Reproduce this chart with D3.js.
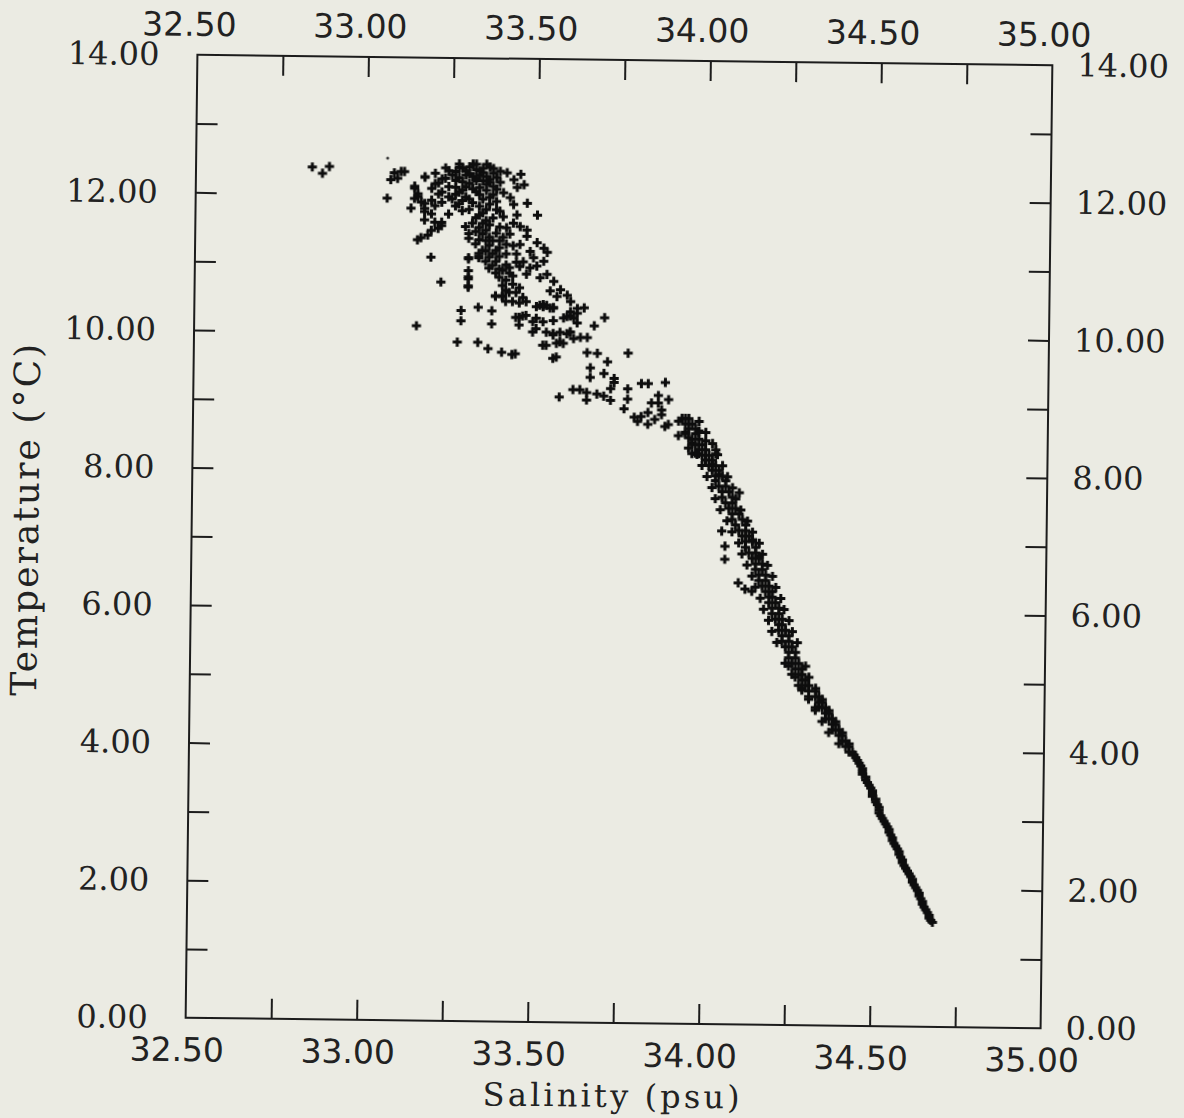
<!DOCTYPE html>
<html>
<head>
<meta charset="utf-8">
<script src="https://cdn.jsdelivr.net/npm/d3@7"></script>
<style>
  body { margin: 0; background: #ebebe3; }
  svg { display: block; }
  .xlab text { font-family: "DejaVu Sans"; font-size: 33px; fill: #222; }
  .ylab text { font-family: "DejaVu Serif"; font-size: 32px; fill: #222; }
  .title { font-family: "DejaVu Serif"; fill: #222; }
</style>
</head>
<body>
<script>
// tick positions and labels
const xMinor = [32.75, 33.0, 33.25, 33.5, 33.75, 34.0, 34.25, 34.5, 34.75]
const xLabels = [32.5, 33.0, 33.5, 34.0, 34.5, 35.0]
const yMinor = [1, 2, 3, 4, 5, 6, 7, 8, 9, 10, 11, 12, 13]
const yLabels = [0, 2, 4, 6, 8, 10, 12, 14]

// [salinity psu, temperature C]
const tinyDots = [[33.06, 12.53]]

const surfaceCluster = [
  [32.84,12.39],[32.87,12.30],[32.89,12.40],
  [33.06,11.95],[33.07,12.22],[33.08,12.32],[33.10,12.34],[33.11,12.34],[33.09,12.24],[33.17,12.26],
  [33.14,12.10],[33.14,11.95],[33.15,12.02],[33.16,11.90],[33.13,11.81],[33.17,11.81],[33.17,11.76],
  [33.19,11.93],[33.17,11.64],[33.19,11.49],[33.21,11.52],[33.22,11.56],[33.15,11.35],[33.16,11.38],
  [33.18,11.42],[33.19,11.10],[33.22,10.74],[33.14,12.13],[33.17,12.27],[33.15,11.98],[33.17,11.88],
  [33.19,11.73],[33.20,11.61],[33.22,11.61],[33.24,11.73],
  [33.20,12.32],[33.20,12.17],[33.21,12.02],[33.22,12.24],[33.24,12.36],[33.24,12.13],[33.25,11.95],
  [33.26,12.22],[33.27,12.41],[33.27,12.05],[33.28,11.93],[33.29,12.13],[33.30,12.32],[33.31,12.46],
  [33.32,12.22],[33.33,12.36],[33.33,12.02],[33.35,12.46],[33.35,12.17],[33.36,11.88],[33.37,12.02],
  [33.38,12.27],[33.39,11.78],[33.32,11.68],[33.33,11.54],[33.35,11.64],[33.34,11.45],[33.36,11.40],
  [33.30,11.45],[33.30,11.38],[33.32,11.30],[33.34,11.21],[33.36,11.11],[33.37,10.99],[33.33,11.16],
  [33.36,11.28],[33.38,11.21],[33.40,11.40],[33.41,11.54],[33.43,11.61],[33.45,11.56],[33.47,11.51],
  [33.42,11.45],[33.43,11.28],[33.44,11.16],[33.44,11.04],[33.42,10.96],[33.43,10.84],[33.39,10.94],
  [33.41,11.16],[33.30,11.10],[33.30,10.91],[33.30,11.08],[33.33,11.12],[33.33,11.10],
  [33.41,12.34],[33.43,12.24],[33.45,12.32],[33.46,12.17],[33.44,12.13],[33.42,11.98],[33.43,11.88],
  [33.44,11.73],[33.47,11.90],[33.50,11.73],[33.50,11.33],[33.52,11.25],[33.53,11.19],[33.52,11.06],
  [33.49,11.11],[33.50,10.99],[33.48,10.96],[33.47,10.87],
  [33.28,12.40],[33.30,12.42],[33.32,12.38],[33.34,12.40],[33.36,12.42],[33.29,12.30],[33.31,12.28],
  [33.33,12.30],[33.35,12.28],[33.37,12.33],[33.28,12.20],[33.30,12.18],[33.34,12.22],[33.36,12.20],
  [33.26,12.12],[33.31,12.10],[33.33,12.12],[33.38,12.10],[33.25,12.30],[33.23,12.25],[33.21,12.18],
  [33.19,12.10],[33.22,12.05],[33.24,11.98],[33.20,11.85],[33.29,11.98],[33.31,11.90],[33.34,11.95],
  [33.38,11.92],[33.40,12.05],[33.35,11.80],[33.33,11.72],[33.37,11.68],[33.39,11.55],[33.37,11.35],
  [33.35,11.20],[33.38,11.05],[33.36,10.95],[33.41,11.00],[33.23,12.40],[33.26,12.35],[33.22,11.90],
  [33.26,11.85],[33.28,11.78],[33.31,11.60],[33.29,11.55],[33.39,11.35]
]

// extra marks where the top blob is solid black
const surfaceCore = [
  [33.27,12.46],[33.29,12.36],[33.32,12.46],[33.34,12.34],[33.37,12.40],[33.39,12.36],[33.27,12.26],
  [33.32,12.26],[33.36,12.24],[33.39,12.20],[33.26,12.02],[33.28,12.08],[33.32,12.06],[33.35,12.08],
  [33.37,12.14],[33.30,11.95],[33.33,11.85],[33.36,11.98],[33.27,11.88],[33.30,11.80],[33.34,11.75],
  [33.38,11.80],[33.40,11.70],[33.36,11.58],[33.34,11.60],[33.32,11.48],[33.35,11.50],[33.38,11.46],
  [33.41,11.30],[33.39,11.25],[33.35,11.35],[33.33,11.36],[33.35,11.05],[33.39,11.12],[33.37,11.16],
  [33.40,10.92],[33.38,10.88],[33.42,10.88],[33.41,10.78],[33.45,10.98],[33.46,11.05],[33.45,11.30],
  [33.47,11.42],[33.48,11.20]
]

const intermediateScatter = [
  [33.30,10.82],[33.30,10.67],[33.30,10.79],[33.30,10.69],[33.40,10.70],[33.42,10.60],
  [33.15,10.10],[33.27,9.87],[33.33,9.87],[33.36,9.78],[33.40,9.73],[33.43,9.70],[33.44,9.71],
  [33.28,10.33],[33.33,10.38],[33.37,10.33],[33.28,10.18],[33.37,10.14],
  [33.38,10.54],[33.40,10.54],[33.41,10.47],[33.43,10.47],[33.44,10.24],[33.46,10.26],[33.50,10.40],
  [33.52,10.40],[33.54,10.38],[33.49,10.18],[33.52,10.18],[33.50,10.08],[33.53,10.03],[33.55,9.99],
  [33.53,9.84],[33.57,9.89],[33.59,10.01],[33.60,10.04],[33.61,9.94],[33.55,9.65],[33.59,10.26],
  [33.60,10.33],[33.62,10.38],
  [33.43,10.72],[33.44,10.60],[33.41,10.63],[33.45,10.67],[33.46,10.53],[33.38,10.55],[33.40,10.55],
  [33.39,10.82],[33.51,10.82],[33.53,10.87],[33.55,10.77],[33.54,10.63],[33.57,10.65],[33.59,10.57],
  [33.60,10.48],[33.56,10.55],[33.52,10.43],[33.55,10.38],[33.58,10.24],[33.61,10.24],[33.62,10.31],
  [33.70,10.25],[33.67,10.13],[33.64,10.39],[33.62,10.17],[33.60,10.27],[33.60,10.03],[33.57,10.03],
  [33.65,9.96],[33.63,9.96],[33.55,10.20],[33.55,10.01],[33.56,9.87],[33.58,9.87],[33.52,9.84],
  [33.56,9.67],[33.49,10.03],[33.50,10.23],[33.47,10.27],[33.45,10.24],[33.45,10.13],[33.51,10.42],
  [33.53,10.42],[33.55,10.39],[33.45,10.45],[33.47,10.47],
  [33.77,9.74],[33.57,9.09],[33.61,9.20],[33.63,9.20],[33.65,9.16],[33.65,9.05],[33.68,9.14],
  [33.70,9.11],[33.72,9.05],[33.66,9.52],[33.66,9.38],[33.65,9.74],[33.68,9.73],[33.71,9.61],
  [33.70,9.44],[33.73,9.37],[33.73,9.31],[33.72,9.22],[33.77,9.22],[33.77,9.07],[33.76,8.93],
  [33.81,9.30],[33.83,9.30],[33.88,9.32],[33.86,9.13],[33.86,9.02],[33.84,9.02],[33.89,9.07],
  [33.87,8.92],[33.87,8.85],[33.83,8.88],[33.79,8.81],[33.80,8.75],[33.81,8.82],[33.83,8.71],
  [33.85,8.78],[33.88,8.68],[33.89,8.71]
]

const thermoclineBand = [
  [33.94,8.80],[33.92,8.55],[33.95,8.52],[33.96,8.43],[33.98,8.62],[34.00,8.48],[33.96,8.29],
  [33.98,8.29],[34.03,8.29],[34.02,8.14],[34.04,7.99],[33.98,8.60],[33.95,8.37],[33.97,8.30],[34.03,8.35],
  [34.05,7.17],[34.06,6.95],[34.06,6.76],[34.10,6.42],[34.12,6.33],[34.14,6.30],[34.10,7.73],
  [34.14,7.05],[34.16,6.81],
  [33.93,8.80],[33.95,8.80],[33.94,8.72],[33.96,8.72],[33.95,8.65],[33.97,8.65],[33.94,8.58],[33.97,8.58],
  [33.96,8.50],[33.98,8.50],[33.97,8.42],[33.99,8.42],[33.98,8.35],[34.00,8.35],[33.99,8.27],[34.01,8.27],
  [34.00,8.20],[34.02,8.20],[34.01,8.12],[34.03,8.12],[34.02,8.05],[34.04,8.05],[34.03,7.97],[34.05,7.97],
  [34.03,7.90],[34.06,7.90],[34.04,7.82],[34.06,7.82],[34.05,7.74],[34.07,7.74],[34.05,7.66],[34.08,7.66],
  [34.06,7.58],[34.08,7.58],[34.07,7.50],[34.09,7.50],[34.08,7.42],[34.10,7.42],[34.08,7.34],[34.11,7.34],
  [34.09,7.26],[34.12,7.26],[34.10,7.18],[34.12,7.18],[34.11,7.10],[34.13,7.10],[34.12,7.02],[34.14,7.02],
  [34.12,6.94],[34.15,6.94],[34.13,6.86],[34.15,6.86],[34.14,6.78],[34.16,6.78],[34.15,6.70],[34.17,6.70],
  [34.15,6.62],[34.17,6.62],[34.16,6.54],[34.18,6.54],[34.16,6.46],[34.18,6.46],[34.17,6.38],[34.19,6.38],
  [34.18,6.30],[34.20,6.30],[34.19,6.22],[34.20,6.22],[34.19,6.14],[34.21,6.14],[34.20,6.06],[34.22,6.06],
  [34.20,5.98],[34.22,5.98],[34.21,5.90],[34.23,5.90],[34.22,5.82],[34.23,5.82],[34.22,5.74],[34.24,5.74],
  [34.23,5.66],[34.25,5.66],[34.23,5.58],[34.25,5.58],[34.24,5.50],[34.26,5.50],[34.25,5.42],[34.27,5.42],
  [34.25,5.34],[34.27,5.34]
]

// left and right edges of the thermocline band
const thermoclineEdges = [
  [33.92,8.76],[33.98,8.76],[33.94,8.60],[34.00,8.60],[33.96,8.44],[34.02,8.44],[33.975,8.28],[34.035,8.28],
  [33.99,8.12],[34.05,8.12],[34.005,7.96],[34.065,7.96],[34.02,7.80],[34.08,7.80],[34.03,7.64],[34.09,7.64],
  [34.045,7.48],[34.105,7.48],[34.065,7.32],[34.125,7.32],[34.08,7.16],[34.14,7.16],[34.10,7.00],[34.16,7.00],
  [34.11,6.84],[34.17,6.84],[34.125,6.68],[34.185,6.68],[34.14,6.52],[34.20,6.52],[34.15,6.36],[34.21,6.36],
  [34.165,6.20],[34.225,6.20],[34.175,6.04],[34.235,6.04],[34.19,5.88],[34.25,5.88],[34.20,5.72],[34.26,5.72],
  [34.215,5.56],[34.275,5.56]
]

const deepTail = [
  [34.26,5.26],[34.28,5.26],[34.24,5.26],[34.27,5.18],[34.29,5.18],[34.28,5.10],[34.29,5.10],[34.26,5.10],
  [34.29,5.02],[34.30,5.02],[34.30,4.94],[34.31,4.94],[34.28,4.94],[34.29,4.87],[34.31,4.86],[34.33,4.86],
  [34.33,4.78],[34.34,4.78],[34.31,4.78],[34.34,4.70],[34.35,4.70],[34.34,4.63],[34.35,4.62],[34.36,4.62],
  [34.33,4.62],[34.36,4.54],[34.37,4.54],[34.37,4.46],[34.38,4.46],[34.36,4.46],[34.38,4.38],[34.39,4.38],
  [34.39,4.30],[34.40,4.30],[34.38,4.30],[34.40,4.22],[34.41,4.22],[34.41,4.14],[34.42,4.14],[34.42,4.06],
  [34.43,4.06],[34.43,3.98],[34.44,3.98],[34.45,3.90],[34.46,3.82],[34.47,3.74],[34.47,3.66],[34.48,3.58],
  [34.49,3.50],[34.50,3.42],[34.50,3.34],[34.51,3.26],[34.52,3.18],[34.52,3.10],[34.53,3.02],[34.54,2.94],
  [34.55,2.86],[34.555,2.78],[34.56,2.70],[34.57,2.62],[34.58,2.54],[34.585,2.46],[34.59,2.38],
  [34.60,2.30],[34.61,2.22],[34.62,2.14],[34.625,2.06],[34.635,1.98],[34.64,1.90],[34.65,1.82],
  [34.655,1.74],[34.665,1.66],[34.67,1.58],[34.68,1.52]
]

// in-between marks that make the deep tail read as a solid line
const deepTailFill = [
  [34.25,5.22],[34.30,5.22],[34.27,5.06],[34.31,5.06],[34.29,4.90],[34.33,4.90],[34.31,4.74],[34.35,4.74],
  [34.33,4.58],[34.37,4.58],[34.35,4.42],[34.39,4.42],[34.37,4.26],[34.41,4.26],[34.40,4.10],[34.43,4.10],
  [34.445,3.94],[34.455,3.86],[34.465,3.78],[34.47,3.70],[34.48,3.62],[34.485,3.54],[34.495,3.46],
  [34.50,3.38],[34.51,3.30],[34.515,3.22],[34.52,3.14],[34.525,3.06],[34.535,2.98],[34.545,2.90],
  [34.55,2.82],[34.56,2.74],[34.565,2.66],[34.575,2.58],[34.58,2.50],[34.59,2.42],[34.595,2.34],
  [34.605,2.26],[34.615,2.18],[34.62,2.10],[34.63,2.02],[34.64,1.94],[34.645,1.86],[34.65,1.78],
  [34.66,1.70],[34.67,1.62],[34.675,1.55]
]

const W = 1184, H = 1118
const plotLeft = 191.5, plotRight = 1046.5, plotTop = 60, plotBottom = 1023

const x = d3.scaleLinear().domain([32.5, 35]).range([plotLeft, plotRight])
const y = d3.scaleLinear().domain([0, 14]).range([plotBottom, plotTop])
const fmt = d3.format(".2f")

const svg = d3.select("body").append("svg")
    .attr("width", W)
    .attr("height", H)

// soften the marks a little, like the scanned original
svg.append("defs").append("filter")
    .attr("id", "soft")
    .append("feGaussianBlur")
    .attr("stdDeviation", 0.5)

// the scanned page sits slightly rotated
const g = svg.append("g")
    .attr("transform", "rotate(0.7," + (plotLeft + plotRight) / 2 + "," + (plotTop + plotBottom) / 2 + ")")

g.append("rect")
    .attr("x", plotLeft)
    .attr("y", plotTop)
    .attr("width", plotRight - plotLeft)
    .attr("height", plotBottom - plotTop)
    .attr("fill", "none")
    .attr("stroke", "#1c1c1c")
    .attr("stroke-width", 2)

// inward minor ticks on all four sides
function ticks(sel) {
    sel.select(".domain").remove()
    sel.selectAll("line").attr("stroke", "#1c1c1c").attr("stroke-width", 2)
}
g.append("g").attr("transform", "translate(0," + plotBottom + ")")
    .call(d3.axisBottom(x).tickValues(xMinor).tickSizeInner(-20).tickSizeOuter(0).tickFormat(""))
    .call(ticks)
g.append("g").attr("transform", "translate(0," + plotTop + ")")
    .call(d3.axisTop(x).tickValues(xMinor).tickSizeInner(-20).tickSizeOuter(0).tickFormat(""))
    .call(ticks)
g.append("g").attr("transform", "translate(" + plotLeft + ",0)")
    .call(d3.axisLeft(y).tickValues(yMinor).tickSizeInner(-21).tickSizeOuter(0).tickFormat(""))
    .call(ticks)
g.append("g").attr("transform", "translate(" + plotRight + ",0)")
    .call(d3.axisRight(y).tickValues(yMinor).tickSizeInner(-21).tickSizeOuter(0).tickFormat(""))
    .call(ticks)

// tick labels
function labels(sel) {
    sel.select(".domain").remove()
    sel.selectAll("line").remove()
    sel.attr("font-family", null).attr("font-size", null)
}
g.append("g").attr("class", "xlab").attr("transform", "translate(0," + plotBottom + ")")
    .call(d3.axisBottom(x).tickValues(xLabels).tickSize(0).tickPadding(20).tickFormat(fmt))
    .call(labels)
    .selectAll("text").attr("dx", -9)
g.append("g").attr("class", "xlab").attr("transform", "translate(0," + plotTop + ")")
    .call(d3.axisTop(x).tickValues(xLabels).tickSize(0).tickPadding(19).tickFormat(fmt))
    .call(labels)
    .selectAll("text").attr("dx", -9)
g.append("g").attr("class", "ylab").attr("transform", "translate(" + plotLeft + ",0)")
    .call(d3.axisLeft(y).tickValues(yLabels).tickSize(0).tickPadding(38).tickFormat(fmt))
    .call(labels)
g.append("g").attr("class", "ylab").attr("transform", "translate(" + plotRight + ",0)")
    .call(d3.axisRight(y).tickValues(yLabels).tickSize(0).tickPadding(25).tickFormat(fmt))
    .call(labels)

// axis titles
g.append("text")
    .attr("class", "title")
    .attr("x", 618)
    .attr("y", 1107)
    .attr("text-anchor", "middle")
    .attr("font-size", 32)
    .attr("textLength", 257)
    .attr("lengthAdjust", "spacing")
    .text("Salinity (psu)")

g.append("text")
    .attr("class", "title")
    .attr("transform", "translate(38,527) rotate(-90)")
    .attr("text-anchor", "middle")
    .attr("font-size", 36)
    .attr("textLength", 352)
    .attr("lengthAdjust", "spacing")
    .text("Temperature (\u00B0C)")

// data: plus markers
const allPoints = surfaceCluster.concat(surfaceCore, intermediateScatter, thermoclineBand,
    thermoclineEdges, deepTail, deepTailFill)
const plus = "M-4.6,0H4.6M0,-4.6V4.6"

g.append("g")
    .attr("filter", "url(#soft)")
    .selectAll("path")
    .data(allPoints)
    .enter()
    .append("path")
    .attr("transform", function (d) {
        return "translate(" + x(d[0]) + "," + y(d[1]) + ")"
    })
    .attr("d", plus)
    .attr("stroke", "#0e0e0e")
    .attr("stroke-width", 3)
    .attr("fill", "none")

g.append("g")
    .selectAll("circle")
    .data(tinyDots)
    .enter()
    .append("circle")
    .attr("cx", function (d) { return x(d[0]) })
    .attr("cy", function (d) { return y(d[1]) })
    .attr("r", 1.5)
    .attr("fill", "#333")
</script>
</body>
</html>
